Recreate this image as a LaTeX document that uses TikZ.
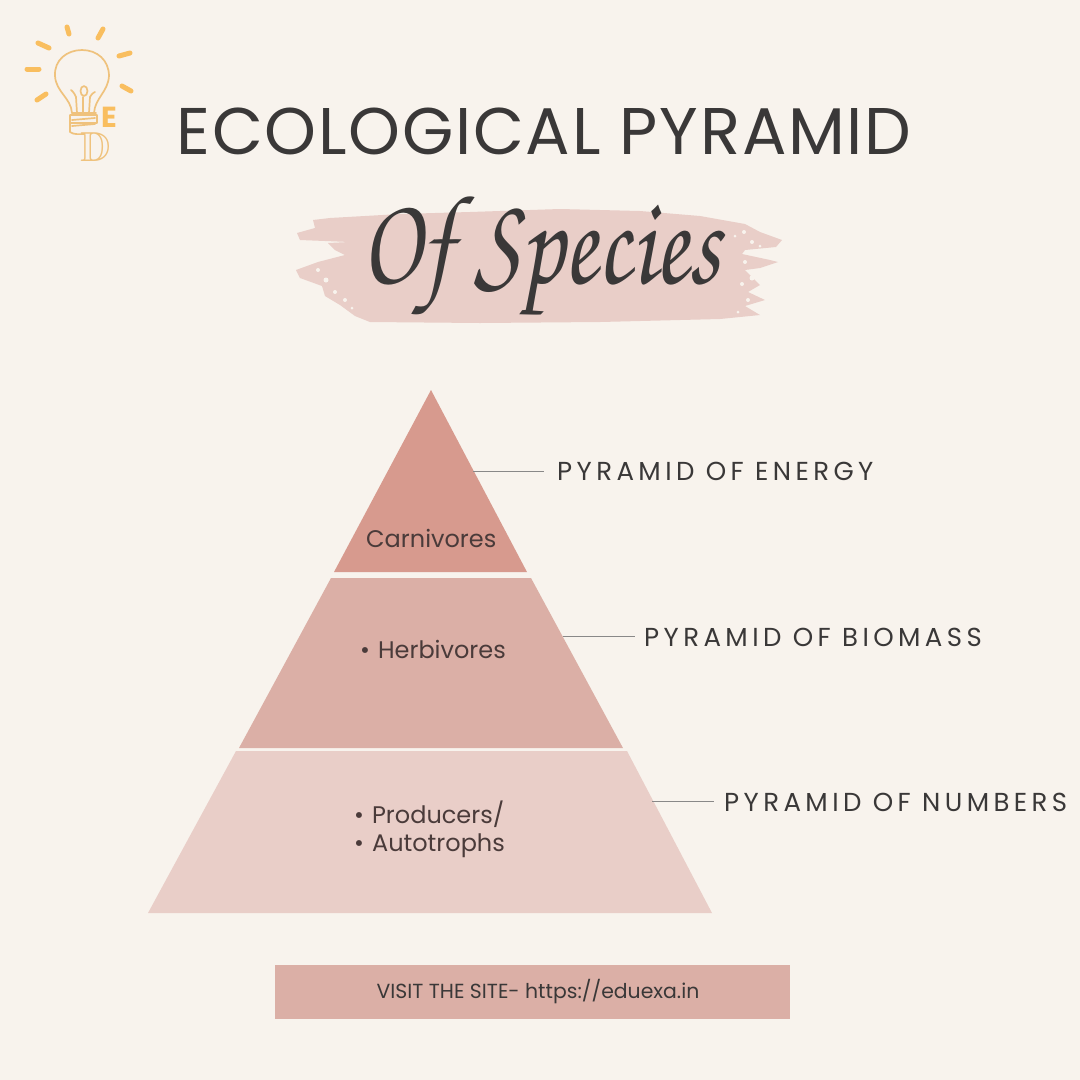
\documentclass[tikz,border=0pt]{standalone}
\usepackage{amssymb}
\usepackage{fontspec}
\setmainfont{Poppins}
\newfontfamily\widecaps[LetterSpace=17]{Poppins}
\newfontfamily\titlecaps[LetterSpace=2.6]{Poppins}
\usetikzlibrary{calc,backgrounds}
\definecolor{paper}{HTML}{F8F3ED}
\definecolor{inkdark}{HTML}{3A3838}
\definecolor{inkbrown}{HTML}{4A3B3A}
\definecolor{toplayer}{HTML}{D79A8E}
\definecolor{midlayer}{HTML}{DBAFA6}
\definecolor{lowlayer}{HTML}{E9CEC8}
\definecolor{rayyellow}{HTML}{F9BE5F}
\definecolor{bulbline}{HTML}{EFC27D}
\tikzset{%
    levellabel/.style={anchor=west,inner sep=0pt,text=inkdark,font=\widecaps\fontsize{26}{30}\selectfont},%
    layertext/.style={anchor=west,inner sep=0pt,text=inkbrown,align=left,font=\fontsize{24}{28}\selectfont},%
    leader/.style={draw=inkdark!60,line width=0.9pt},%
    bulbstroke/.style={draw=bulbline,line width=1.7pt,line cap=round,line join=round},%
}
\begin{document}
\begin{tikzpicture}[x=1pt,y=-1pt]
    % Fond
    \fill[paper] (0,0) rectangle (1080,1080);
    \useasboundingbox (0,0) rectangle (1080,1080);

    % Rayons de l'ampoule
    \foreach \xa/\ya/\xb/\yb in {67/27/69/34,103/29/98/38,38/43/49/48,119/56/130/53,27/69/39/69,122/86/131/91,37/100/46/94}{%
        \draw[rayyellow,line width=5pt,line cap=round] (\xa,\ya) -- (\xb,\yb);
    }

    % Ampoule
    \draw[bulbstroke] (72,113) .. controls (71,98) and (56,92) .. (55,76)
        .. controls (54,60) and (67,50) .. (82,50)
        .. controls (97,50) and (109,60) .. (109,76)
        .. controls (108,92) and (95,98) .. (94,113);
    \draw[bulbstroke] (77,113) -- (76,97) (89,113) -- (90,97) (83,113) -- (83,97);
    \draw[bulbstroke] (76,97) .. controls (74,92) and (71,90) .. (71,90)
        (90,97) .. controls (92,93) and (95,92) .. (95,92);
    \draw[bulbstroke] (84,91) ellipse (3.5 and 5);
    \draw[bulbstroke] (72,113) -- (96,113) (70,115) rectangle (97,123)
        (70,123) -- (70,132) .. controls (74,135) and (80,134) .. (84,134)
        (72,120) -- (95,118) (72,126) -- (95,124);

    % Lettres
    \node[inner sep=0pt,text=rayyellow,font=\fontsize{29}{30}\bfseries\selectfont] (letterE) at (109.5,117) {E};
    \node[inner sep=0pt,text=bulbline,font=\fontsize{42}{44}\selectfont] (letterD) at (96,147) {$\mathbb{D}$};

    % Titre
    \node[inner sep=0pt,text=inkdark,font=\titlecaps\fontsize{66}{70}\selectfont] (title) at (544,131) {ECOLOGICAL PYRAMID};

    % Coup de pinceau
    \fill[lowlayer] (330,218) -- (400,214) -- (470,212) -- (560,209) -- (640,211) -- (700,216)
        -- (745,224) -- (760,232) -- (782,240) -- (776,247) -- (745,250) -- (742,254) -- (770,260)
        -- (778,262) -- (760,268) -- (745,270) -- (760,285) -- (748,292) -- (765,300) -- (745,306)
        -- (760,315) -- (720,319) -- (600,322) -- (480,323) -- (370,322) -- (355,316) -- (340,305)
        -- (325,296) -- (322,286) -- (300,278) -- (296,270) -- (318,262) -- (345,255) -- (335,250)
        -- (328,243) -- (350,242) -- (300,240) -- (297,233) -- (315,228) -- (313,220) -- cycle;
    % Mouchetures du pinceau
    \foreach \xs/\ys/\rs in {318/270/2,326/280/2.5,335/292/2,345/300/2,352/308/1.5,752/242/2,760/246/1.5,745/262/2,752/278/2.5,742/284/2,748/300/2,738/312/1.5,735/236/1.5,744/232/2}{%
        \fill[paper] (\xs,\ys) circle (\rs);
    }
    \node[inner sep=0pt,text=inkdark,xscale=0.84,yscale=1.08,transform shape,font=\fontsize{118}{120}\usefont{T1}{pzc}{m}{it}] (subtitle) at (541,258) {Of Species};

    % Pyramide
    \fill[toplayer] (431,390) coordinate (apex) -- (527,572) -- (334,572) -- cycle;
    \fill[midlayer] (331,578) -- (531,578) -- (623,748) -- (239,748) -- cycle;
    \fill[lowlayer] (236,751) -- (627,751) -- (712,913) -- (148,913) -- cycle;

    % Textes des étages
    \node[layertext] (carnivores) at (366,538) {Carnivores};
    \node[layertext] (herbivores) at (360,649) {\textbullet\hspace{8pt}Herbivores};
    \node[layertext] (producers) at (354,829) {\textbullet\hspace{8pt}Producers/\\\textbullet\hspace{8pt}Autotrophs};

    % Étiquettes
    \node[levellabel] (energy) at (557,471) {PYRAMID OF ENERGY};
    \node[levellabel] (biomass) at (644,637) {PYRAMID OF BIOMASS};
    \node[levellabel] (numbers) at (724,802) {PYRAMID OF NUMBERS};

    % Traits de rappel
    \coordinate (energyend) at (473,471);
    \coordinate (biomassend) at (563,636);
    \coordinate (numbersend) at (652,801);
    \draw[leader] (energyend) -- ($(energy.west)+(-13,0)$);
    \draw[leader] (biomassend) -- ($(biomass.west)+(-9,-1)$);
    \draw[leader] (numbersend) -- ($(numbers.west)+(-10,-1)$);

    % Bandeau
    \node[fill=midlayer,minimum width=515pt,minimum height=54pt,inner sep=0pt,text=inkdark,font=\fontsize{20.4}{22}\selectfont] (banner) at (532.5,992) {\hspace*{11pt}VISIT THE SITE- https://eduexa.in};
\end{tikzpicture}
\end{document}
